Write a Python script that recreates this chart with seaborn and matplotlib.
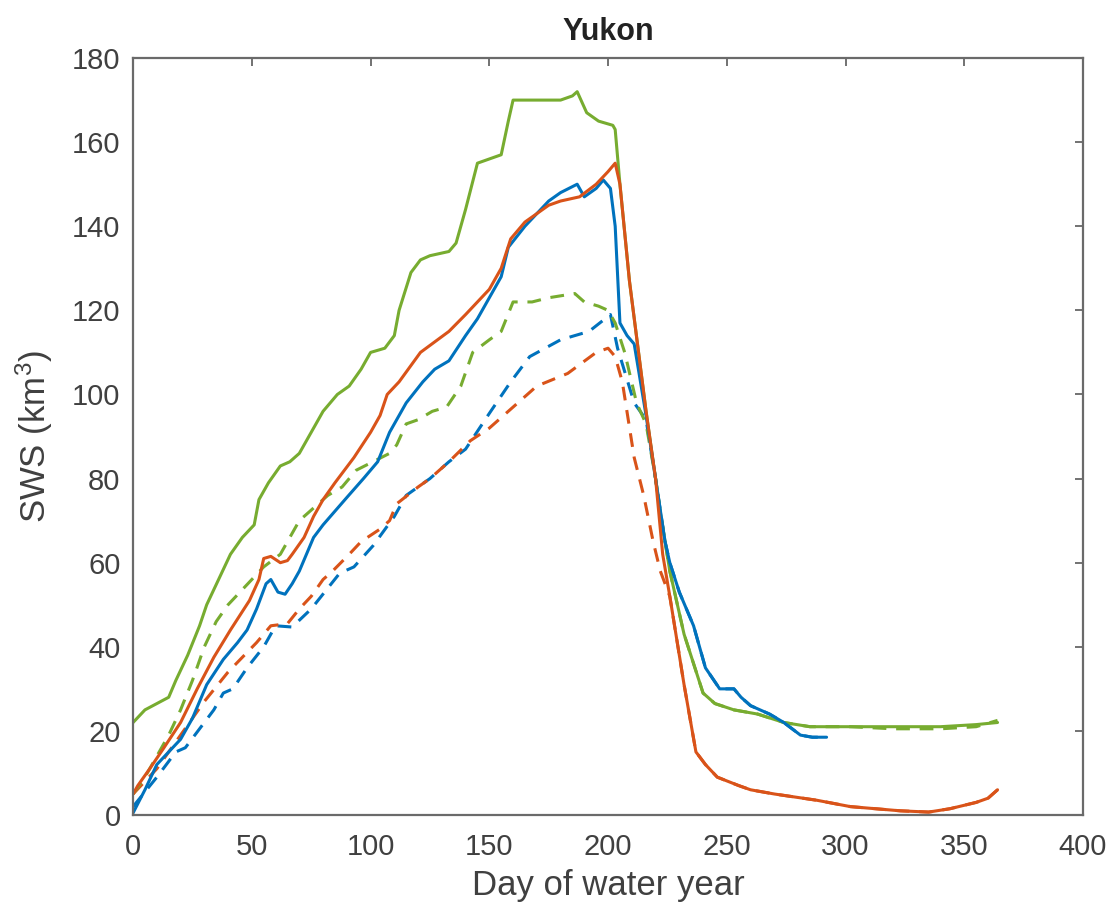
import matplotlib
matplotlib.use("Agg")
import matplotlib.pyplot as plt
import seaborn as sns
import pandas as pd

# ---------------- data (day of water year, SWS km^3) ----------------
TITLE = "Yukon"
XLABEL = "Day of water year"
YLABEL = "SWS (km$^{3}$)"
X_TICKS = [0, 50, 100, 150, 200, 250, 300, 350, 400]
Y_TICKS = [0, 20, 40, 60, 80, 100, 120, 140, 160, 180]

BLUE_SOLID = [(0, 0.5), (5, 6), (10, 12), (15, 15), (20, 18), (25, 23), (31, 31), (38, 37),
              (44, 41), (48, 44), (52, 49), (56, 55), (58, 56), (61, 53), (64, 52.5), (67, 55),
              (70, 58), (76, 66), (80, 69), (90, 75.5), (97, 80), (103, 84), (108, 91),
              (115, 98), (122, 103), (127, 106), (133, 108), (140, 114), (145, 118), (150, 123),
              (155, 128), (158, 135), (165, 140), (175, 146), (180, 148), (187, 150), (190, 147),
              (195, 149), (198, 151), (201, 149), (203, 140), (205, 117), (208, 114), (211, 112),
              (216, 95), (220, 80), (224, 65), (226, 60), (230, 53), (236, 45), (241, 35),
              (247, 30), (253, 30), (256, 28), (260, 26), (268, 24), (274, 22), (281, 19),
              (286, 18.5), (292, 18.5)]

RED_SOLID = [(0, 5), (2, 7), (7, 11), (13, 16), (20, 22), (27, 30), (34, 37.5), (41, 44),
             (49, 51), (53, 56), (55, 61), (58, 61.5), (62, 60), (65, 60.5), (67, 62), (72, 66),
             (76, 71), (80, 75), (85, 79), (93, 85), (100, 91), (104, 95), (107, 100), (112, 103),
             (121, 110), (133, 115), (140, 119), (150, 125), (155, 130), (159, 137), (165, 141),
             (175, 145), (180, 146), (188, 147), (195, 150), (200, 153), (203, 155), (205, 150),
             (209, 127), (216, 96), (220, 80), (223, 62), (226, 52), (232, 31), (237, 15),
             (241, 12), (246, 9), (255, 7), (260, 6), (270, 5), (288, 3.5), (302, 2), (323, 1),
             (335, 0.7), (344, 1.5), (355, 3), (360, 4), (364, 6)]

GREEN_SOLID = [(0, 22), (5, 25), (10, 26.5), (15, 28), (18, 32), (23, 38), (28, 45), (31, 50),
               (36, 56), (41, 62), (46, 66), (51, 69), (53, 75), (57, 79), (62, 83), (66, 84),
               (70, 86), (75, 91), (80, 96), (86, 100), (91, 102), (96, 106), (100, 110),
               (106, 111), (110, 114), (112, 120), (117, 129), (121, 132), (125, 133), (133, 134),
               (136, 136), (140, 144), (145, 155), (150, 156), (155, 157), (158, 165), (160, 170),
               (170, 170), (180, 170), (185, 171), (187, 172), (191, 167), (196, 165), (202, 164),
               (203, 163), (205, 150), (209, 127), (216, 96), (220, 80), (222, 72), (226, 58),
               (232, 43), (236, 36), (240, 29), (245, 26.5), (253, 25), (263, 24), (274, 22),
               (285, 21), (302, 21), (320, 21), (340, 21), (355, 21.5), (364, 22)]

BLUE_DASHED = [(0, 2), (10, 9), (18, 15), (22, 16), (26, 19), (30, 22), (34, 25), (38, 29),
               (42, 30), (48, 35), (55, 40), (60, 45), (67, 44.7), (75, 49), (87, 57.5), (93, 59),
               (101, 64), (110, 71), (115, 76), (125, 80), (133, 84), (140, 87), (150, 95.5),
               (159, 103), (167, 109), (180, 113), (192, 115), (201, 119), (204, 111), (211, 98),
               (216, 94), (220, 80), (224, 65), (226, 60), (230, 53), (236, 45), (241, 35),
               (247, 30), (253, 30), (256, 28), (260, 26), (268, 24), (274, 22), (281, 19),
               (286, 18.5), (292, 18.5)]

RED_DASHED = [(0, 5), (10, 11), (20, 19), (30, 27), (40, 34), (46, 37.5), (52, 41), (58, 45),
              (65, 45.5), (70, 49), (75, 52), (80, 56), (84, 58), (91, 62), (96, 65), (104, 68),
              (108, 70), (111, 74), (120, 78), (125, 80), (133, 84), (142, 89), (150, 92),
              (160, 97), (170, 102), (183, 105), (195, 110), (200, 111), (203, 109), (206, 103),
              (211, 85), (215, 76), (219, 65), (222, 58), (226, 52), (232, 31), (237, 15),
              (241, 12), (246, 9), (255, 7), (260, 6), (270, 5), (288, 3.5), (302, 2), (323, 1),
              (335, 0.7), (344, 1.5), (355, 3), (360, 4), (364, 6)]

GREEN_DASHED = [(0, 5), (5, 9), (10, 14), (15, 19), (20, 25), (25, 32), (30, 40), (35, 46),
                (40, 50), (45, 53), (50, 56), (55, 59), (62, 62), (66, 66), (70, 70), (76, 73),
                (82, 76), (88, 78), (94, 82), (101, 84), (108, 86), (111, 88), (115, 93),
                (120, 94), (126, 96), (132, 97), (138, 102), (143, 110), (150, 113), (155, 115),
                (160, 122), (168, 122), (175, 123), (186, 124), (190, 122), (196, 121), (200, 120),
                (203, 117), (207, 110), (212, 98), (216, 93), (220, 80), (222, 72), (226, 58),
                (232, 43), (236, 36), (240, 29), (245, 26.5), (253, 25), (263, 24), (274, 22),
                (285, 21), (302, 21), (320, 20.5), (340, 20.5), (355, 21), (364, 22.5)]

SERIES = [
    ("blue_dashed", BLUE_DASHED, "#0072BD", "--"),
    ("red_dashed", RED_DASHED, "#D95319", "--"),
    ("green_dashed", GREEN_DASHED, "#77AC30", "--"),
    ("green_solid", GREEN_SOLID, "#77AC30", "-"),
    ("blue_solid", BLUE_SOLID, "#0072BD", "-"),
    ("red_solid", RED_SOLID, "#D95319", "-"),
]

# ---------------- plot ----------------
sns.set_style("white")
plt.rcParams["font.family"] = ["Liberation Sans", "DejaVu Sans"]
plt.rcParams["mathtext.default"] = "regular"

fig = plt.figure(figsize=(11.09, 9.14), dpi=100)
ax = fig.add_axes([0.120, 0.1083, 0.8566, 0.8282])

for name, pts, color, ls in SERIES:
    df = pd.DataFrame(pts, columns=["day", "sws"])
    sns.lineplot(data=df, x="day", y="sws", ax=ax, color=color, linewidth=2.2,
                 estimator=None, sort=False)
    ax.lines[-1].set_linestyle(ls)
    if ls == "--":
        ax.lines[-1].set_dashes((4.5, 3.2))

ax.set_xlim(0, 400)
ax.set_ylim(0, 180)
ax.set_xticks(X_TICKS)
ax.set_yticks(Y_TICKS)

text_col = "#404040"
ax.tick_params(direction="in", length=6, width=1.2, top=True, right=True,
               labelsize=21, colors="#5a5a5a", labelcolor=text_col)
ax.tick_params(axis="x", pad=13)
ax.tick_params(axis="y", pad=9)
for sp in ax.spines.values():
    sp.set_color("#6a6a6a")
    sp.set_linewidth(1.6)

ax.set_xlabel(XLABEL, fontsize=25, color=text_col, labelpad=6)
ax.set_ylabel(YLABEL, fontsize=25, color=text_col, labelpad=12)
ax.set_title(TITLE, fontsize=22, fontweight="bold", color="#222222", pad=13)

fig.savefig("out.png", dpi=100)
